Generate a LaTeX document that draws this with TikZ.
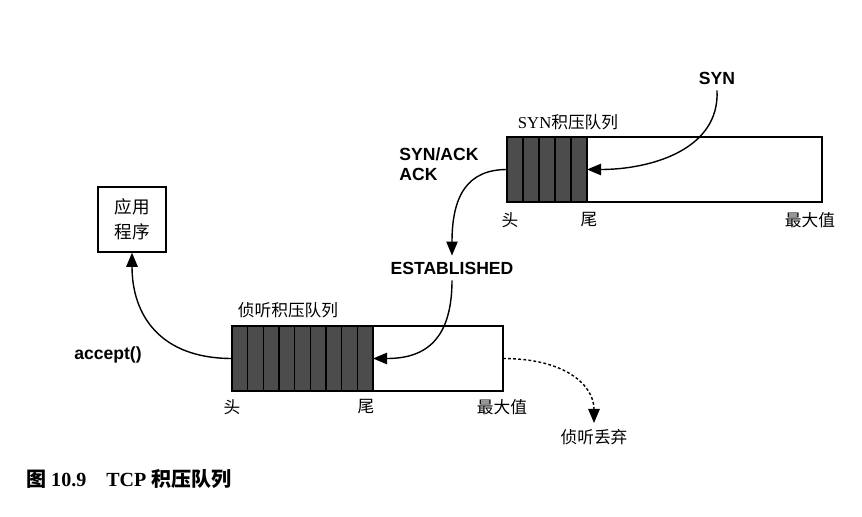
\documentclass[tikz,border=0pt]{standalone}
\usepackage{fontspec}
\setmainfont{Liberation Serif}
\setsansfont{Liberation Sans}
\newfontfamily\cjk{Noto Sans CJK SC}
\usetikzlibrary{arrows.meta}

\begin{document}
\begin{tikzpicture}[x=0.02cm,y=-0.02cm,
    every node/.style={font=\fontsize{9.5}{11}\selectfont\cjk},
    lbl/.style={font=\fontsize{10}{11.5}\selectfont\sffamily\bfseries},
    queue/.style={draw,line width=0.8pt,inner sep=0pt,outer sep=0pt,minimum height=1.3cm},
    cell/.style={draw,line width=0.8pt,fill=black!70},
    conn/.style={line width=0.8pt,-{Triangle[length=8pt,width=6.5pt]}}]

      \useasboundingbox (0,0) rectangle (862,517);

      % SYN queue
      \foreach \i in {0,...,4}
        \draw[cell] (507+16*\i,137) rectangle ++(16,65);
      \node[queue,minimum width=6.3cm] (synq) at (664.5,169.5) {};
      \coordinate (syntail) at (587,169.5);
      \node (synname) at (568,122) {{\rmfamily SYN}积压队列};
      \node (synhead) at (510,220) {头};
      \node (synend) at (589,220) {尾};
      \node (synmax) at (810,220) {最大值};

      % listen queue
      \foreach \i in {0,...,8}
        \draw[cell] (232+15.67*\i,326) rectangle ++(15.67,65);
      \node[queue,minimum width=5.42cm] (lisq) at (367.5,358.5) {};
      \coordinate (listail) at (373,358.5);
      \node (lisname) at (288,310) {侦听积压队列};
      \node (lishead) at (232,407) {头};
      \node (lisend) at (366,407) {尾};
      \node (lismax) at (502,407) {最大值};

      \node[draw,line width=0.8pt,minimum width=1.36cm,minimum height=1.3cm,inner sep=0pt,
            align=center,font=\fontsize{10}{14}\selectfont\cjk] (app) at (132,219.5) {应用\\程序};

      \node[lbl] (syn) at (717,78) {SYN};
      \node[lbl,align=left] (synack) at (439,164) {SYN/ACK\\ACK};
      \node[lbl] (est) at (452,268) {ESTABLISHED};
      \node[lbl] (accept) at (108,355) {accept()};
      \node (drop) at (594,437) {侦听丢弃};

      \draw[conn] (syn.south) .. controls (720,150) and (650,169.5) .. (syntail);
      \draw[conn] (synq.west) .. controls (468,169.5) and (452,195) .. (est.north);
      \draw[conn] (est.south) .. controls (452,345) and (420,358.5) .. (listail);
      \draw[conn] (lisq.west) .. controls (160,358.5) and (132,315) .. (app.south);
      \draw[conn,dash pattern=on 1.6pt off 1.3pt] (lisq.east) .. controls (565,358.5) and (594,385) .. (drop.north);

      \node[anchor=west,font=\fontsize{11.4}{13}\selectfont\bfseries] (caption) at (20,479)
        {{\cjk 图} 10.9\quad TCP {\cjk 积压队列}};
    \end{tikzpicture}
\end{document}
